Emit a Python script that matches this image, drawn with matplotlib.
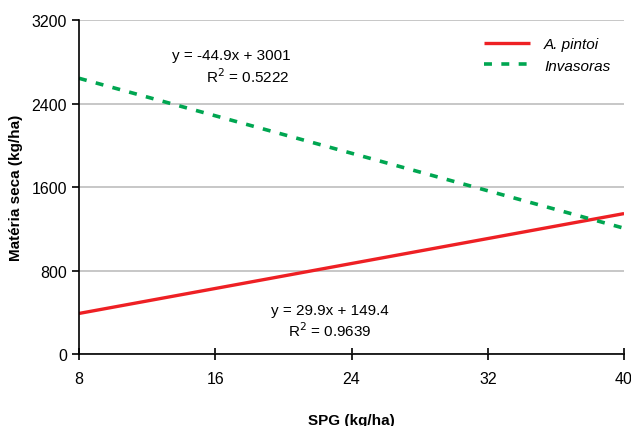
import matplotlib.pyplot as plt

plt.rcParams['font.family'] = ['Liberation Sans', 'DejaVu Sans']

# Valores (extremos das retas de regressão)
spg = [8, 40]
pintoi = [388.6, 1345.4]
invasoras = [2641.8, 1205.0]

x_ticks = [8, 16, 24, 32, 40]
y_ticks = [0, 800, 1600, 2400, 3200]

fig = plt.figure(figsize=(6.31, 4.27), dpi=100)
ax = fig.add_axes([0.1252, 0.1686, 0.8638, 0.7822])

ax.plot(spg, pintoi, color='#ee2024', lw=2.4, label='A. pintoi', solid_capstyle='butt')
ax.plot(spg, invasoras, color='#00a651', lw=2.6, ls=(0, (2.2, 2.6)), label='Invasoras')

ax.set_xlim(8, 40)
ax.set_ylim(0, 3200)
ax.set_xticks(x_ticks)
ax.set_yticks(y_ticks)
ax.grid(axis='y', color='#bdbdbd', lw=1.2)
ax.set_axisbelow(True)

for s in ['top', 'right']:
    ax.spines[s].set_visible(False)
ax.spines['left'].set_linewidth(1.2)
ax.spines['bottom'].set_linewidth(1.2)
ax.tick_params(axis='x', direction='inout', length=8, width=1.2, labelsize=11.5, pad=8)
ax.tick_params(axis='y', direction='out', length=5, width=1.2, labelsize=11.5)

ax.set_xlabel('SPG (kg/ha)', fontsize=11, fontweight='bold', labelpad=20)
ax.set_ylabel('Matéria seca (kg/ha)', fontsize=11, fontweight='bold', labelpad=6)

ax.text(0.28, 0.884, 'y = -44.9x + 3001', transform=ax.transAxes, fontsize=11, ha='center')
ax.text(0.31, 0.815, 'R$^2$ = 0.5222', transform=ax.transAxes, fontsize=11, ha='center')
ax.text(0.46, 0.12, 'y = 29.9x + 149.4', transform=ax.transAxes, fontsize=11, ha='center')
ax.text(0.46, 0.055, 'R$^2$ = 0.9639', transform=ax.transAxes, fontsize=11, ha='center')

leg = ax.legend(loc='upper right', bbox_to_anchor=(1.0, 0.99), frameon=False, fontsize=11,
                handlelength=3.0, handletextpad=0.9, labelspacing=0.5)
for t in leg.get_texts():
    t.set_fontstyle('italic')

fig.savefig('out.png', dpi=100)
